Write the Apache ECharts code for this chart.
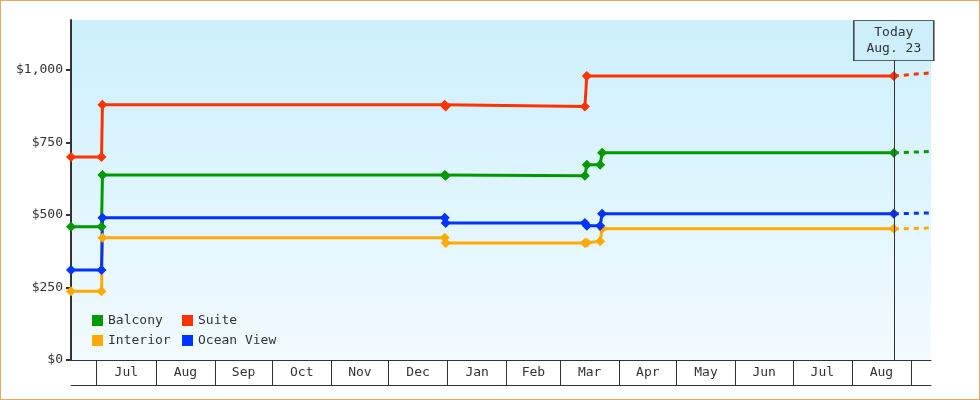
<!DOCTYPE html>
<html>
<head>
<meta charset="utf-8">
<script src="https://cdn.jsdelivr.net/npm/echarts@6/dist/echarts.min.js"></script>
<style>
  html, body { margin: 0; padding: 0; background: #fff; }
  #wrap { position: relative; width: 980px; height: 400px; }
  #main { width: 980px; height: 400px; }
  #frame { position: absolute; left: 0; top: 0; width: 980px; height: 400px; box-sizing: border-box;
           border: 1px solid #e8a860; pointer-events: none; }
</style>
</head>
<body>
<div id="wrap"><div id="main"></div><div id="frame"></div></div>
<script>
// price history per cabin type (step points)
var stepDates = ['2018-06-17 12:00', '2018-07-03 12:00', '2018-07-04', '2018-12-30 12:00', '2018-12-31',
                 '2019-03-14', '2019-03-15', '2019-03-22', '2019-03-23', '2019-08-23'];
var suiteDates = ['2018-06-17 12:00', '2018-07-03 12:00', '2018-07-04', '2018-12-30 12:00', '2018-12-31',
                  '2019-03-14', '2019-03-15', '2019-08-23'];
var suiteValues    = [700, 700, 880, 880, 874, 874, 979, 979];
var balconyValues  = [459, 459, 638, 638, 635, 635, 673, 673, 714, 714];
var interiorValues = [237, 237, 421, 421, 403, 403, 404, 409, 452, 452];
var oceanValues    = [310, 310, 490, 490, 472, 472, 463, 463, 504, 504];

// projection after today
var todayDate = '2019-08-23';
var projEnd = '2019-09-11 12:00';
var projEndValues = { Balcony: 719, Suite: 990, Interior: 455, 'Ocean View': 507 };

var axisMin = '2018-06-17 12:00';
var axisMax = '2019-09-11 12:00';
var yTicks = [0, 250, 500, 750, 1000];
var monthNames = ['Jan', 'Feb', 'Mar', 'Apr', 'May', 'Jun', 'Jul', 'Aug', 'Sep', 'Oct', 'Nov', 'Dec'];

var colors = { Balcony: '#009900', Suite: '#ff3300', Interior: '#ffaa00', 'Ocean View': '#0033ff' };
var font = 'DejaVu Sans Mono';

function zip(d, v) {
  return v.map(function (x, i) { return [d[i], x]; });
}

var chart = echarts.init(document.getElementById('main'));
var maxTime = echarts.time.parse(axisMax).getTime();

var lines = [
  { name: 'Balcony', data: zip(stepDates, balconyValues) },
  { name: 'Suite', data: zip(suiteDates, suiteValues) },
  { name: 'Interior', data: zip(stepDates, interiorValues) },
  { name: 'Ocean View', data: zip(stepDates, oceanValues) }
];

var series = [];
lines.forEach(function (l) {
  var last = l.data[l.data.length - 1][1];
  series.push({
    name: l.name + ' proj',
    type: 'line',
    data: [[todayDate, last], [projEnd, projEndValues[l.name]]],
    symbol: 'none',
    lineStyle: { color: colors[l.name], width: 3, type: [5, 5] },
    itemStyle: { color: colors[l.name] },
    silent: true
  });
});
lines.forEach(function (l) {
  series.push({
    name: l.name,
    type: 'line',
    data: l.data,
    symbol: 'diamond',
    symbolSize: 10,
    showAllSymbol: true,
    lineStyle: { color: colors[l.name], width: 3 },
    itemStyle: { color: colors[l.name] },
    emphasis: { disabled: true }
  });
});
// today marker
series.push({
  name: 'today',
  type: 'line',
  data: [],
  markLine: {
    silent: true,
    symbol: 'none',
    label: { show: false },
    lineStyle: { color: '#333', width: 1, type: 'solid' },
    data: [{ xAxis: todayDate }]
  },
  markPoint: {
    silent: true,
    z: 20,
    symbol: 'rect',
    symbolSize: [80, 40],
    itemStyle: { color: '#cdeffc', borderColor: '#333', borderWidth: 1 },
    label: {
      show: true, position: 'inside', formatter: 'Today\nAug. 23',
      fontFamily: font, fontSize: 13, color: '#333', lineHeight: 16
    },
    data: [{ coord: [todayDate, 1101] }]
  }
});

var rich = {};
[28, 29, 30, 31].forEach(function (d) {
  rich['d' + d] = { padding: [0, 0, 0, d * 1.907], fontFamily: font, fontSize: 13, color: '#333' };
});

var legendText = { fontFamily: font, fontSize: 13, color: '#333' };

chart.setOption({
  animation: false,
  backgroundColor: '#fff',
  color: ['#009900', '#ff3300', '#ffaa00', '#0033ff'],
  grid: {
    left: 71, right: 49, top: 20, bottom: 40,
    show: true, borderWidth: 0,
    backgroundColor: new echarts.graphic.LinearGradient(0, 0, 0, 1, [
      { offset: 0, color: '#ccf0fc' },
      { offset: 1, color: '#f2fbff' }
    ])
  },
  legend: [
    { orient: 'vertical', left: 92, top: 314, itemWidth: 11, itemHeight: 11, itemGap: 7, icon: 'rect',
      padding: 0, data: ['Balcony', 'Interior'], textStyle: legendText, selectedMode: false },
    { orient: 'vertical', left: 182, top: 314, itemWidth: 11, itemHeight: 11, itemGap: 7, icon: 'rect',
      padding: 0, data: ['Suite', 'Ocean View'], textStyle: legendText, selectedMode: false }
  ],
  xAxis: [
    {
      type: 'time', min: axisMin, max: axisMax,
      minInterval: 28 * 86400000, maxInterval: 31 * 86400000,
      axisLine: { lineStyle: { color: '#333', width: 1 } },
      axisTick: { show: true, inside: false, length: 25, lineStyle: { color: '#333', width: 1 } },
      splitLine: { show: false },
      axisLabel: {
        margin: 6,
        formatter: function (val) {
          var d = new Date(val);
          var days = new Date(d.getFullYear(), d.getMonth() + 1, 0).getDate();
          if (val + days * 86400000 > maxTime) return '';
          return '{d' + days + '|' + monthNames[d.getMonth()] + '}';
        },
        rich: rich
      }
    },
    {
      type: 'time', min: axisMin, max: axisMax, position: 'bottom', offset: 25,
      axisLine: { show: true, lineStyle: { color: '#333', width: 1 } },
      axisTick: { show: false }, axisLabel: { show: false }, splitLine: { show: false }
    }
  ],
  yAxis: {
    type: 'value', min: 0, max: 1172,
    axisLine: { show: true, lineStyle: { color: '#333', width: 2 } },
    axisTick: { show: true, length: 5, lineStyle: { color: '#333', width: 2 }, customValues: yTicks },
    splitLine: { show: false },
    axisLabel: {
      customValues: yTicks, margin: 8,
      fontFamily: font, fontSize: 13, color: '#333',
      formatter: function (v) { return '$' + v.toLocaleString('en-US'); }
    }
  },
  series: series
});
</script>
</body>
</html>
